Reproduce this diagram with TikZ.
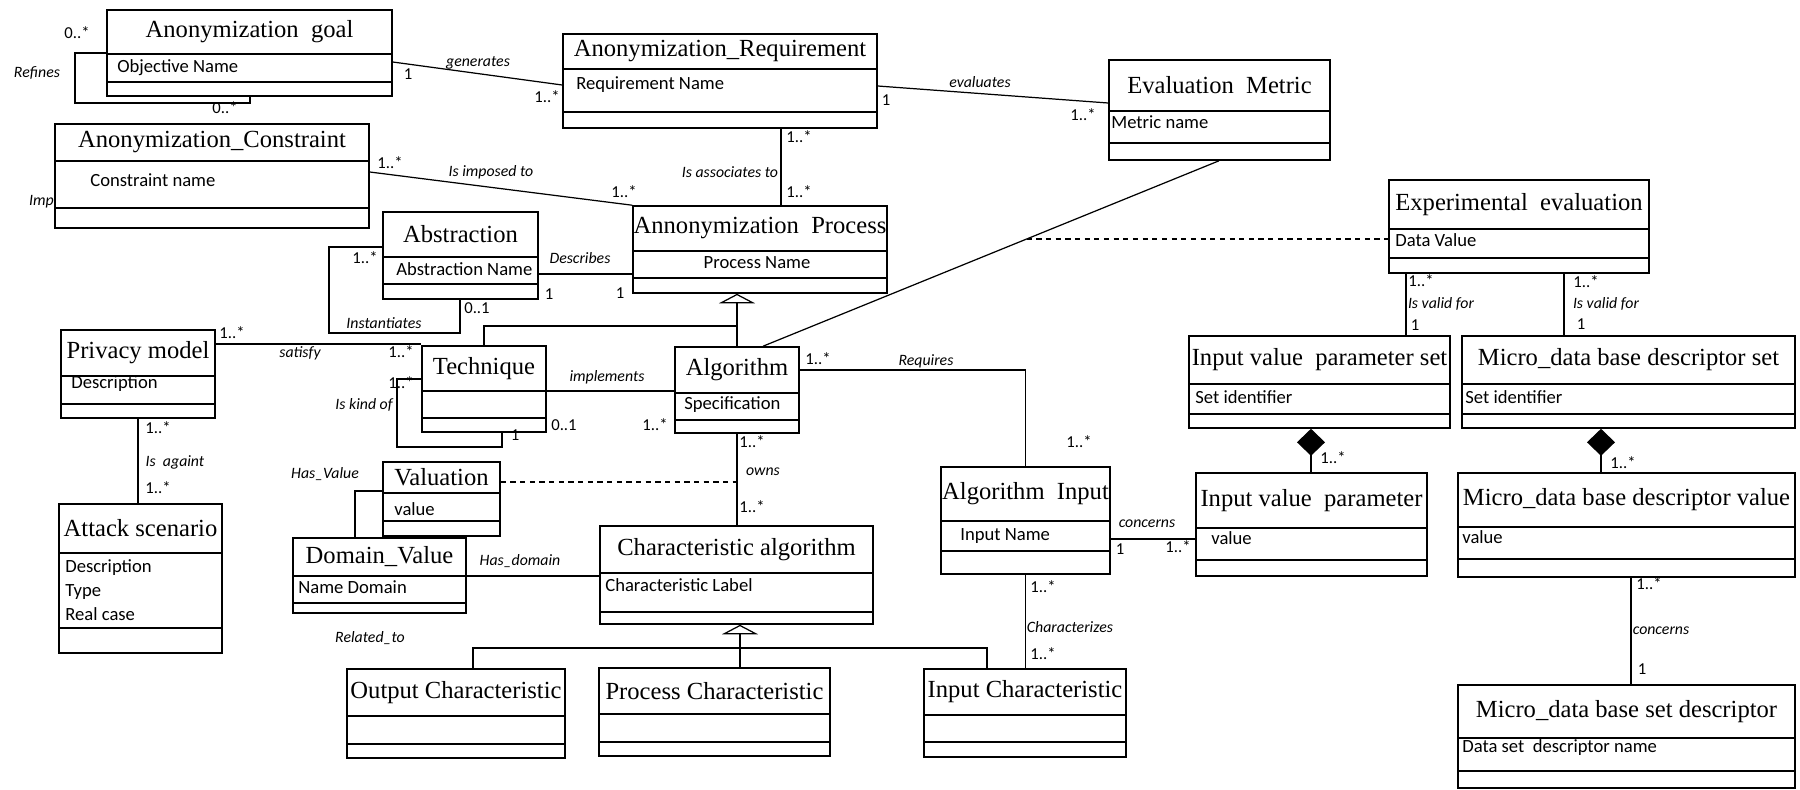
\documentclass[tikz,border=0pt]{standalone}
\usepackage{fontspec}
\setmainfont{Liberation Serif}
\newfontfamily\attrfont{Carlito}
\usetikzlibrary{arrows.meta,fit}

% class box: name, x1, y1, x2, y2, first divider, second divider, title
\newcommand{\umlclass}[8]{%
  \node[cls, fit={(#2,#3) (#4,#5)}] (#1) {};
  \draw[clsline] (#2,#6) -- (#4,#6) (#2,#7) -- (#4,#7);
  \node[ctitle] (#1-t) at ({(#2+#4)/2},{(#3+#6)/2}) {#8};
}

\begin{document}
\begin{tikzpicture}[
  x=0.02cm, y=-0.02cm,
  cls/.style={draw, line width=0.9pt, inner sep=0pt},
  clsline/.style={line width=0.9pt},
  ctitle/.style={inner sep=0pt, font=\fontsize{14pt}{16pt}\selectfont},
  attr/.style={inner sep=0pt, anchor=west,
    font=\attrfont\fontsize{10.6pt}{13.6pt}\selectfont},
  lbl/.style={inner sep=0pt, font=\attrfont\itshape\fontsize{9pt}{11pt}\selectfont},
  mult/.style={inner sep=0pt, font=\attrfont\fontsize{9.5pt}{11pt}\selectfont},
  assoc/.style={line width=0.7pt},
  dashline/.style={line width=0.7pt, dash pattern=on 3pt off 2.5pt},
  gen/.style={line width=0.7pt, -{Triangle[open, length=0.19cm, width=0.72cm]}},
  comp/.style={line width=0.7pt, {Diamond[length=0.54cm, width=0.56cm]}-},
]
  \useasboundingbox (0,0) rectangle (1800,789);

  % classes
  \umlclass{goal}{107}{10}{392}{96}{54}{82}{Anonymization~ goal}
  \umlclass{req}{563}{34}{877}{128}{69}{112}{Anonymization\_Requirement}
  \umlclass{metric}{1109}{60}{1330}{160}{111}{143}{Evaluation~ Metric}
  \umlclass{cons}{55}{124}{369}{228}{161}{208}{Anonymization\_Constraint}
  \umlclass{proc}{633}{206}{887}{293}{251}{278}{Annonymization~ Process}
  \umlclass{abs}{383}{212}{538}{299}{257}{284}{Abstraction}
  \umlclass{priv}{61}{330}{215}{418}{376}{404}{Privacy model}
  \umlclass{tech}{422}{346}{546}{432}{391}{418}{Technique}
  \umlclass{alg}{675}{347}{799}{433}{393}{420}{Algorithm}
  \umlclass{exp}{1389}{180}{1649}{273}{229}{258}{Experimental~ evaluation}
  \umlclass{ivps}{1189}{336}{1450}{428}{384}{414}{Input value~ parameter set}
  \umlclass{mdds}{1462}{336}{1795}{428}{384}{414}{Micro\_data base descriptor set}
  \umlclass{ivp}{1196}{473}{1427}{576}{528}{560}{Input value~ parameter}
  \umlclass{mddv}{1458}{473}{1795}{577}{527}{559}{Micro\_data base descriptor value}
  \umlclass{mdsd}{1458}{685}{1795}{788}{738}{771}{Micro\_data base set descriptor}
  \umlclass{ain}{941}{467}{1110}{574}{521}{551}{Algorithm~ Input}
  \umlclass{calg}{600}{526}{873}{624}{573}{612}{Characteristic algorithm}
  \umlclass{val}{383}{462}{500}{536}{493}{521}{Valuation}
  \umlclass{dom}{293}{538}{466}{613}{576}{603}{Domain\_Value}
  \umlclass{atk}{59}{504}{222}{653}{553}{628}{Attack scenario}
  \umlclass{outc}{347}{669}{565}{758}{716}{744}{Output Characteristic}
  \umlclass{proch}{599}{668}{830}{756}{714}{742}{Process Characteristic}
  \umlclass{inc}{924}{669}{1126}{757}{715}{742}{Input Characteristic}

  % attributes
  \node[attr] (goal-a) at (117,68) {Objective Name};
  \node[attr] (req-a) at (576,85) {Requirement Name};
  \node[attr] (metric-a) at (1111,122) {Metric name};
  \node[attr] (cons-a) at (90,180) {Constraint name};
  \node[attr, anchor=center] (proc-a) at (757,263) {Process Name};
  \node[attr] (abs-a) at (396,269) {Abstraction Name};
  \node[attr] (priv-a) at (71,384) {Description};
  \node[attr] (alg-a) at (684,405) {Specification};
  \node[attr] (exp-a) at (1395,240) {Data Value};
  \node[attr] (ivps-a) at (1195,397) {Set identifier};
  \node[attr] (mdds-a) at (1465,397) {Set identifier};
  \node[attr] (ivp-a) at (1211,538) {value};
  \node[attr] (mddv-a) at (1462,537) {value};
  \node[attr] (mdsd-a) at (1462,748) {Data set~ descriptor name};
  \node[attr] (ain-a) at (960,536) {Input Name};
  \node[attr] (calg-a) at (605,585) {Characteristic Label};
  \node[attr] (val-a) at (394,509) {value};
  \node[attr] (dom-a) at (298,587) {Name Domain};
  \node[attr, align=left] (atk-a) at (65,590) {Description\\Type\\Real case};

  % associations
  \draw[assoc] (goal.east |- 0,62) -- (req.west |- 0,85);
  \draw[assoc] (goal.west |- 0,53) -| (75,103) -| (goal.south -| 250,0);
  \draw[assoc] (req.east |- 0,86) -- (metric.west |- 0,103);
  \draw[assoc] (req.south -| 781,0) -- (proc.north -| 781,0);
  \draw[assoc] (cons.east |- 0,172) -- (proc.north west);
  \draw[assoc] (abs.east |- 0,274) -- (proc.west |- 0,274);
  \draw[assoc] (abs.west |- 0,247) -| (329,333) -| (abs.south -| 460,0);
  \draw[assoc] (tech.north -| 484,0) |- (alg.north |- 0,326);
  \draw[gen] (alg.north) -- (proc.south -| alg.north);
  \draw[assoc] (alg.north -| 763,0) -- coordinate[pos=0.578] (evalpt)
      (metric.south -| 1219,0);
  \draw[dashline] (evalpt) -- (exp.west |- evalpt);
  \draw[assoc] (priv.east |- 0,344) -- (tech.west |- 0,344);
  \draw[assoc] (tech.west |- 0,379) -| (397,447) -| (tech.south -| 502,0);
  \draw[assoc] (tech.east |- 0,391) -- (alg.west |- 0,391);
  \draw[assoc] (alg.east |- 0,370) -| (ain.north);
  \draw[assoc] (alg.south) -- (calg.north -| alg.south);
  \draw[dashline] (val.east |- 0,482) -- (alg.south |- 0,482);
  \draw[assoc] (priv.south) -- (atk.north -| priv.south);
  \draw[assoc] (val.west |- 0,491) -| (dom.north -| 355,0);
  \draw[assoc] (dom.east |- 0,576) -- (calg.west |- 0,576);
  \draw[assoc] (outc.north -| 473,0) |- (proch.north |- 0,648)
      -| (inc.north -| 987,0);
  \draw[gen] (proch.north -| 740,0) -- (calg.south -| 740,0);
  \draw[assoc] (ain.south) -- (inc.north -| ain.south);
  \draw[assoc] (ain.east |- 0,539) -- (ivp.west |- 0,539);
  \draw[assoc] (exp.south -| 1406,0) -- (ivps.north -| 1406,0);
  \draw[assoc] (exp.south -| 1564,0) -- (mdds.north -| 1564,0);
  \draw[comp] (ivps.south -| 1311,0) -- (ivp.north -| 1311,0);
  \draw[comp] (mdds.south -| 1601,0) -- (mddv.north -| 1601,0);
  \draw[assoc] (mddv.south -| 1631,0) -- (mdsd.north -| 1631,0);

  % role names
  \node[lbl] (l-gen) at (478,63) {generates};
  \node[lbl] (l-ref) at (37,73) {Refines};
  \node[lbl] (l-eva) at (980,82) {evaluates};
  \node[lbl] (l-aso) at (730,172) {Is associates to};
  \node[lbl] (l-imp) at (491,172) {Is imposed to};
  \node[lbl, anchor=east] (l-imp2) at (54,202) {Imp};
  \node[lbl] (l-des) at (580,258) {Describes};
  \node[lbl] (l-ins) at (384,323) {Instantiates};
  \node[lbl] (l-sat) at (300,353) {satisfy};
  \node[lbl] (l-kin) at (364,405) {Is kind of};
  \node[lbl] (l-imt) at (607,377) {implements};
  \node[lbl] (l-req) at (926,361) {Requires};
  \node[lbl] (l-own) at (763,472) {owns};
  \node[lbl] (l-aga) at (175,462) {Is~ againt};
  \node[lbl] (l-hv) at (325,474) {Has\_Value};
  \node[lbl] (l-hd) at (520,561) {Has\_domain};
  \node[lbl] (l-rel) at (370,638) {Related\_to};
  \node[lbl] (l-chz) at (1070,627) {Characterizes};
  \node[lbl] (l-con) at (1147,524) {concerns};
  \node[lbl] (l-vf1) at (1441,304) {Is valid for};
  \node[lbl] (l-vf2) at (1606,304) {Is valid for};
  \node[lbl] (l-con2) at (1661,631) {concerns};

  % multiplicities
  \node[mult] (m1) at (77,33) {0..*};
  \node[mult] (m2) at (225,108) {0..*};
  \node[mult] (m3) at (408,74) {1};
  \node[mult] (m4) at (547,97) {1..*};
  \node[mult] (m5) at (886,100) {1};
  \node[mult] (m6) at (1083,115) {1..*};
  \node[mult] (m7) at (799,137) {1..*};
  \node[mult] (m8) at (799,192) {1..*};
  \node[mult] (m9) at (390,163) {1..*};
  \node[mult] (m10) at (624,192) {1..*};
  \node[mult] (m11) at (549,294) {1};
  \node[mult] (m12) at (620,293) {1};
  \node[mult] (m13) at (365,258) {1..*};
  \node[mult] (m14) at (477,308) {0..1};
  \node[mult] (m15) at (232,333) {1..*};
  \node[mult] (m16) at (401,352) {1..*};
  \node[mult] (m17) at (401,383) {1..*};
  \node[mult] (m18) at (515,435) {1};
  \node[mult] (m19) at (564,425) {0..1};
  \node[mult] (m20) at (655,425) {1..*};
  \node[mult] (m21) at (818,359) {1..*};
  \node[mult] (m22) at (1079,442) {1..*};
  \node[mult] (m23) at (752,442) {1..*};
  \node[mult] (m24) at (752,507) {1..*};
  \node[mult] (m25) at (158,428) {1..*};
  \node[mult] (m26) at (158,488) {1..*};
  \node[mult] (m27) at (1043,587) {1..*};
  \node[mult] (m28) at (1043,654) {1..*};
  \node[mult] (m29) at (1120,549) {1};
  \node[mult] (m30) at (1178,547) {1..*};
  \node[mult] (m31) at (1421,281) {1..*};
  \node[mult] (m32) at (1415,325) {1};
  \node[mult] (m33) at (1586,282) {1..*};
  \node[mult] (m34) at (1581,324) {1};
  \node[mult] (m35) at (1333,458) {1..*};
  \node[mult] (m36) at (1623,463) {1..*};
  \node[mult] (m37) at (1649,584) {1..*};
  \node[mult] (m38) at (1642,669) {1};
\end{tikzpicture}
\end{document}
